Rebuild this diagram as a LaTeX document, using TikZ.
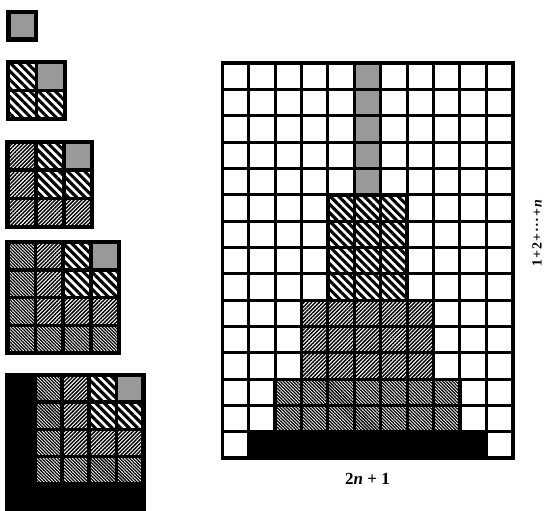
\documentclass[tikz,border=0pt]{standalone}
\usepackage{fontspec}
\setmainfont{Liberation Serif}
\usetikzlibrary{patterns.meta}
\tikzset{
 gl/.style={line width=3pt, black},
 blk/.style={line width=3.3pt, black},
 outer/.style={line width=3.6pt, black},
 layer1/.style={fill=black!40},
 layer2/.style={pattern={Lines[angle=-45,distance=6pt,line width=3.1pt]}},
 layer3/.style={pattern={Lines[angle=45,distance=2.7pt,line width=1.45pt]}},
 layer4/.style={pattern={Lines[angle=-45,distance=2.3pt,line width=1.25pt]}},
 layer5/.style={fill=black},
 lbl/.style={font=\bfseries, inner sep=0pt},
}
% k, x0, y0, cell size (pt)
\newcommand{\smallsq}[4]{%
 \begin{scope}[shift={(#2pt,-#3pt)}, x=#4pt, y=-#4pt]
  \foreach \c in {1,...,#1}{\foreach \r in {1,...,#1}{%
    \pgfmathtruncatemacro{\m}{max(#1-\c,\r-1)+1}%
    \edef\mypath{\noexpand\path[layer\m]}%
    \mypath (\c-1,\r-1) rectangle (\c,\r);
  }}
  \foreach \i in {0,...,#1}{\draw[gl, line width=3.6pt] (\i,0) -- (\i,#1); \draw[gl, line width=3.6pt] (0,\i) -- (#1,\i);}
  \draw[outer, line width=4.2pt] (0,0) rectangle (#1,#1);
 \end{scope}}
\begin{document}
\begin{tikzpicture}
\useasboundingbox (0,0) rectangle (546pt,-511pt);
% small squares
\smallsq{1}{8.5}{12}{27.5}
\smallsq{2}{8}{62}{28.4}
\smallsq{3}{7.5}{142}{28.2}
\smallsq{4}{7.5}{242}{27.8}
\smallsq{5}{7.5}{375}{27.2}
% main grid
\begin{scope}[shift={(222.3pt,-63.3pt)}, x=26.4pt, y=-26.33pt]
 \path[layer1] (5,0) rectangle (6,5);
 \path[layer2] (4,5) rectangle (7,9);
 \path[layer3] (3,9) rectangle (8,12);
 \path[layer4] (2,12) rectangle (9,14);
 \path[layer5] (1,14) rectangle (10,15);
 \foreach \i in {0,...,11}{\draw[gl] (\i,0) -- (\i,15);}
 \foreach \j in {0,...,15}{\draw[gl] (0,\j) -- (11,\j);}
 \draw[blk] (5,0) rectangle (6,5);
 \draw[blk] (4,5) rectangle (7,9);
 \draw[blk] (3,9) rectangle (8,12);
 \draw[blk] (2,12) rectangle (9,14);
 \draw[outer] (0,0) rectangle (11,15);
\end{scope}
\node[lbl, font=\bfseries\fontsize{17}{20}\selectfont] (width) at (367.5pt,-479pt) {2\textit{n} + 1};
\node[lbl, font=\bfseries\fontsize{14}{16}\selectfont, rotate=90] (height) at (537pt,-233pt) {1\kern1pt+\kern1pt2\kern1pt+\kern1pt·\kern0.5pt·\kern0.5pt·\kern1pt+\kern1pt\textit{n}};
\end{tikzpicture}
\end{document}
